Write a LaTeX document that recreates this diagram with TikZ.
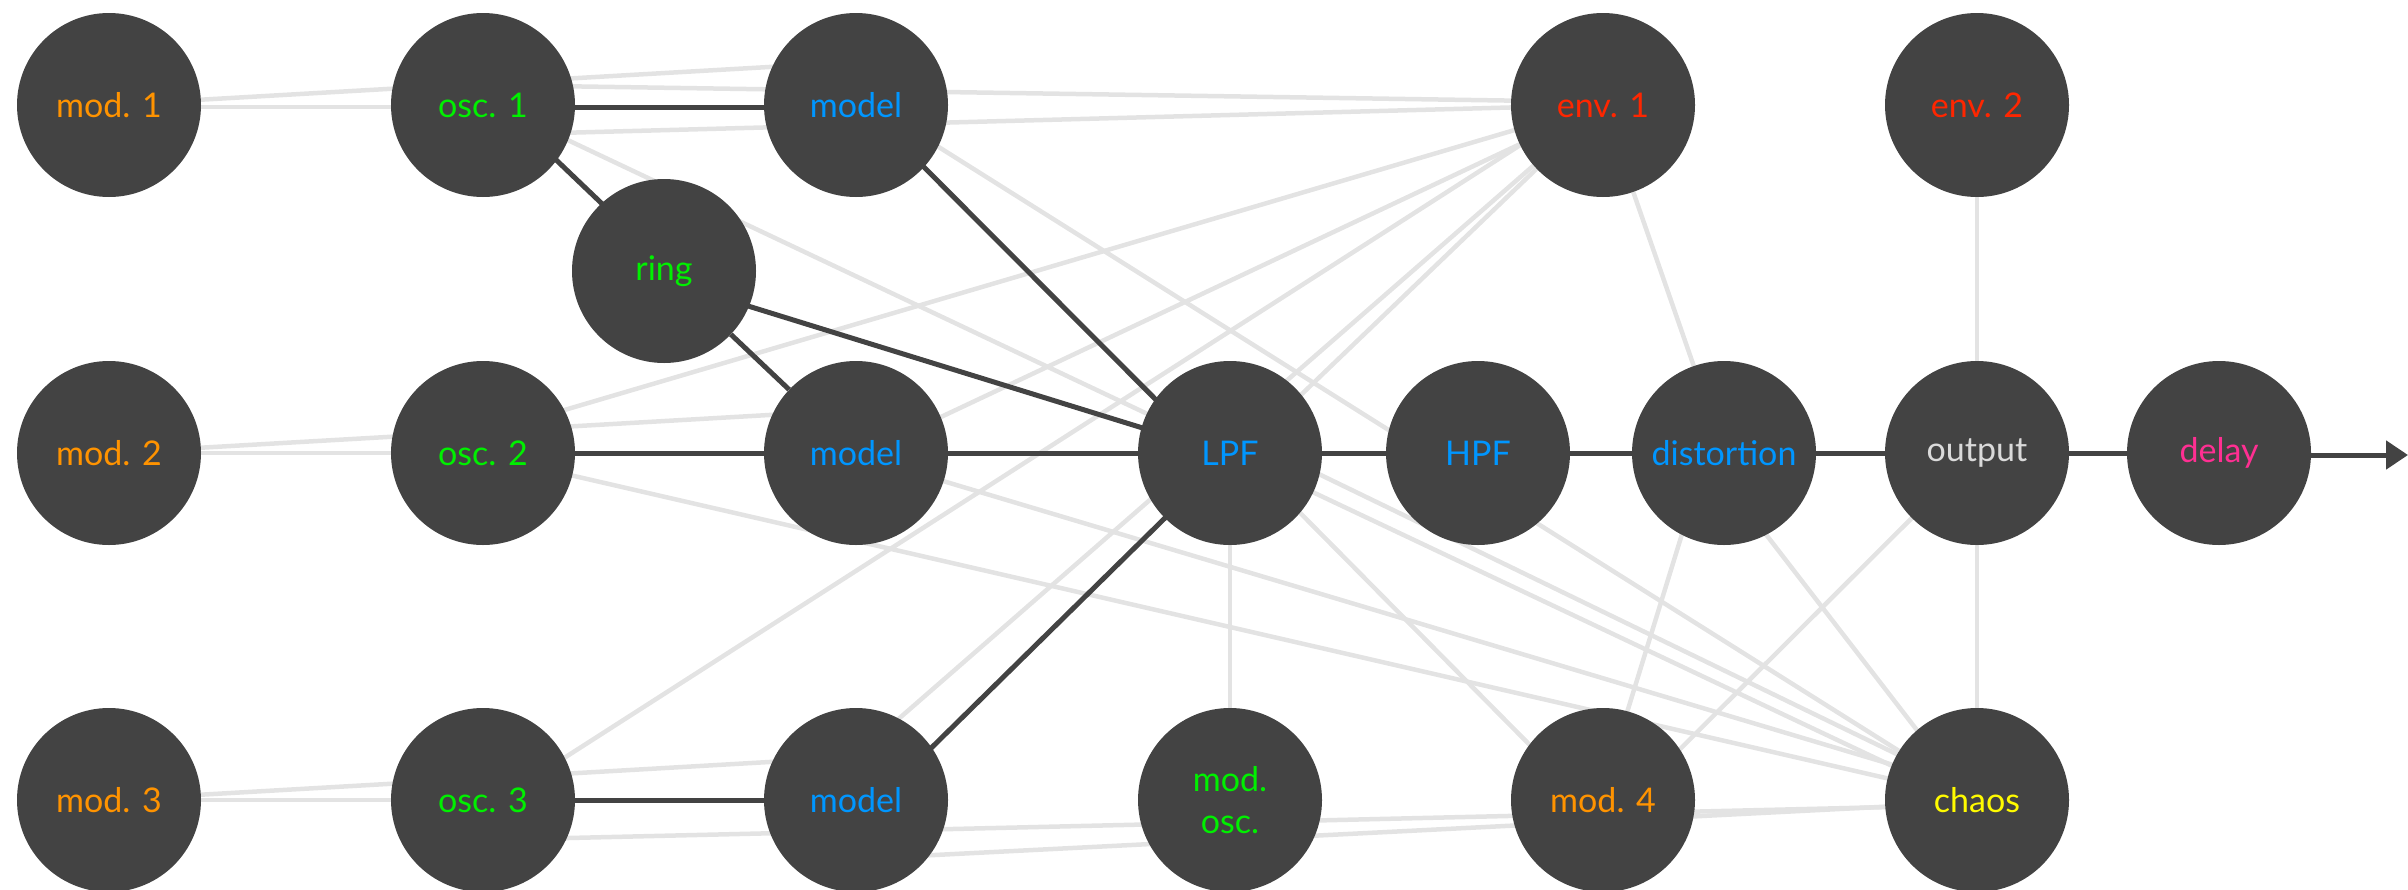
\documentclass[tikz,border=0pt]{standalone}
\usepackage{fontspec}
\setmainfont{Lato}
\usetikzlibrary{arrows.meta,calc}
\definecolor{nodegray}{HTML}{434343}
\definecolor{lightline}{HTML}{E3E3E3}
\definecolor{cmod}{HTML}{FF9300}
\definecolor{cosc}{HTML}{00F000}
\definecolor{cblue}{HTML}{0096FF}
\definecolor{cenv}{HTML}{FF2600}
\definecolor{cdelay}{HTML}{FF2F92}
\definecolor{cchaos}{HTML}{FFFB00}
\definecolor{cout}{HTML}{DADADA}
\pgfdeclarelayer{bg}
\pgfsetlayers{bg,main}
\begin{document}
\begin{tikzpicture}[x=1pt,y=-1pt,
  unit/.style={circle,fill=nodegray,minimum size=184pt,inner sep=0pt,
    font=\fontsize{34}{42}\selectfont,align=center},
  soft/.style={draw=lightline,line width=4.5pt},
  hard/.style={draw=nodegray,line width=5pt}]
\useasboundingbox (0,0) rectangle (2408,889);
% row 1
\node[unit,text=cmod]  (mod1)   at (109,105)  {mod. 1};
\node[unit,text=cosc]  (osc1)   at (483,105)  {osc. 1};
\node[unit,text=cblue] (modelA) at (856,105)  {model};
\node[unit,text=cenv]  (env1)   at (1603,105) {env. 1};
\node[unit,text=cenv]  (env2)   at (1977,105) {env. 2};
\node[unit,text=cosc]  (ring)   at (664,271)  {ring};
% row 2
\node[unit,text=cmod]  (mod2)   at (109,453)  {mod. 2};
\node[unit,text=cosc]  (osc2)   at (483,453)  {osc. 2};
\node[unit,text=cblue] (modelB) at (856,453)  {model};
\node[unit,text=cblue] (lpf)    at (1230,453) {LPF};
\node[unit,text=cblue] (hpf)    at (1478,453) {HPF};
\node[unit,text=cblue] (dist)   at (1724,453) {distortion};
\node[unit,text=cout]  (out)    at (1977,453) {output};
\node[unit,text=cdelay](delay)  at (2219,453) {delay};
\coordinate (outend) at (2408,455);
% row 3
\node[unit,text=cmod]  (mod3)   at (109,800)  {mod. 3};
\node[unit,text=cosc]  (osc3)   at (483,800)  {osc. 3};
\node[unit,text=cblue] (modelC) at (856,800)  {model};
\node[unit,text=cosc]  (modosc) at (1230,800) {mod.\\osc.};
\node[unit,text=cmod]  (mod4)   at (1603,800) {mod. 4};
\node[unit,text=cchaos](chaos)  at (1977,800) {chaos};
\begin{pgfonlayer}{bg}
% light connectors
\draw[soft] ($(mod1)+(0,2)$) -- ($(osc1)+(0,2)$);
\draw[soft] (mod1) -- ($(modelA)+(0,-43)$);
\draw[soft] ($(osc1)+(0,-20)$) -- ($(env1)+(0,-3)$);
\draw[soft] ($(osc1)+(0,30)$) -- (env1);
\draw[soft] ($(osc1)+(0,-5)$) -- ($(chaos)+(0,6)$);
\draw[soft] (mod2) -- ($(modelB)+(0,-43)$);
\draw[soft] (mod2) -- (osc2);
\draw[soft] ($(env1)+(0,-1)$) -- ($(osc2)+(0,-19)$);
\draw[soft] (env1) -- ($(modelB)+(0,4)$);
\draw[soft] ($(osc3)+(0,10)$) -- ($(env1)+(0,-13)$);
\draw[soft] ($(modelC)+(0,-44)$) -- (env1);
\draw[soft] ($(lpf)+(0,10)$) -- (env1);
\draw[soft] (env1) -- (dist);
\draw[soft] (env2) -- (out);
\draw[soft] (out) -- (chaos);
\draw[soft] ($(modelA)+(0,-10)$) -- (chaos);
\draw[soft] ($(lpf)+(0,-22)$) -- ($(chaos)+(0,-7)$);
\draw[soft] ($(lpf)+(0,-11)$) -- ($(mod4)+(0,19)$);
\draw[soft] ($(modelB)+(0,2)$) -- ($(chaos)+(0,-10)$);
\draw[soft] ($(osc2)+(0,2)$) -- ($(chaos)+(0,-1)$);
\draw[soft] ($(dist)+(0,27)$) -- ($(chaos)+(0,8)$);
\draw[soft] ($(dist)+(-17,0)$) -- ($(mod4)+(-3,0)$);
\draw[soft] (out) -- ($(mod4)+(26,0)$);
\draw[soft] (lpf) -- (modosc);
\draw[soft] (mod3) -- ($(modelC)+(0,-43)$);
\draw[soft] (mod3) -- (osc3);
\draw[soft] ($(osc3)+(0,40)$) -- ($(chaos)+(0,5)$);
\draw[soft] ($(modelC)+(0,59)$) -- ($(chaos)+(0,2)$);
% dark connectors
\draw[hard] ($(osc1)+(0,2)$) -- ($(modelA)+(0,2)$);
\draw[hard] ($(osc1)+(0,-15)$) -- ($(ring)+(0,-8)$);
\draw[hard] (ring) -- (modelB);
\draw[hard] ($(ring)+(0,9)$) -- ($(lpf)+(0,2)$);
\draw[hard] ($(modelA)+(0,-6)$) -- ($(lpf)+(0,21)$);
\draw[hard] (osc2) -- (modelB);
\draw[hard] (modelB) -- (lpf);
\draw[hard] ($(modelC)+(0,22)$) -- ($(lpf)+(0,1)$);
\draw[hard] (osc3) -- (modelC);
\draw[hard] (lpf) -- (hpf);
\draw[hard] (hpf) -- (dist);
\draw[hard] (dist) -- (out);
\draw[hard] (out) -- (delay);
\draw[hard,-{Triangle[length=22pt,width=28pt]}] ($(delay)+(0,2)$) -- (outend);
\end{pgfonlayer}
\end{tikzpicture}
\end{document}
